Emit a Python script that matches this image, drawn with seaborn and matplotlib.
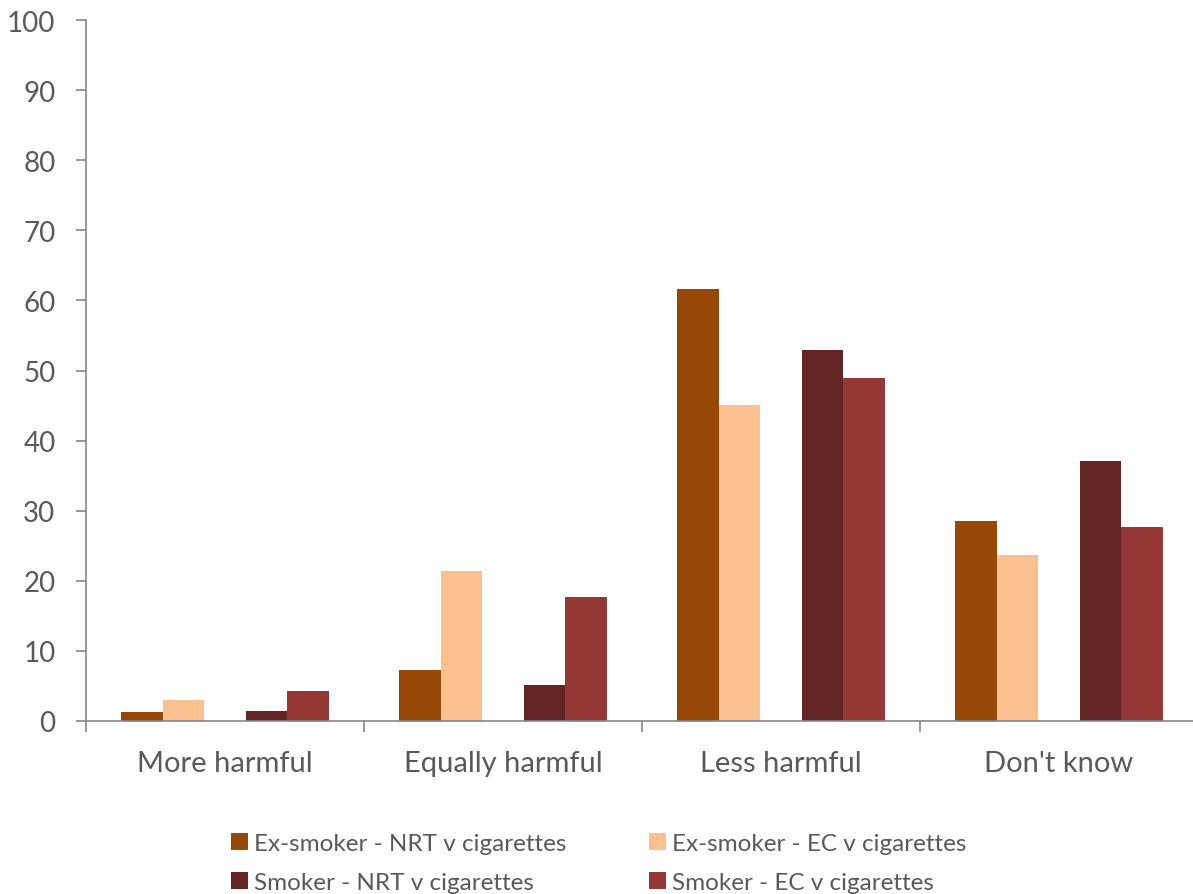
import matplotlib
matplotlib.use("Agg")
import matplotlib.pyplot as plt
from matplotlib.patches import Patch
import seaborn as sns
import pandas as pd

# data (percent)
categories = ["More harmful", "Equally harmful", "Less harmful", "Don't know"]
ex_nrt = [1.3, 7.3, 61.6, 28.6]
ex_ec = [3.0, 21.4, 45.1, 23.7]
smoker_nrt = [1.4, 5.2, 52.9, 37.1]
smoker_ec = [4.3, 17.7, 48.9, 27.7]

series_names = ["Ex-smoker - NRT v cigarettes", "Ex-smoker - EC v cigarettes",
                "Smoker - NRT v cigarettes", "Smoker - EC v cigarettes"]
series_colors = ["#974706", "#FAC090", "#632523", "#953735"]
spacer = " "  # empty slot between ex-smoker and smoker bars

rows = []
for name, vals in zip(series_names, [ex_nrt, ex_ec, smoker_nrt, smoker_ec]):
    for cat, v in zip(categories, vals):
        rows.append({"category": cat, "series": name, "value": v})
for cat in categories:
    rows.append({"category": cat, "series": spacer, "value": 0.0})
df = pd.DataFrame(rows)

hue_order = series_names[:2] + [spacer] + series_names[2:]
palette = dict(zip(series_names, series_colors))
palette[spacer] = "white"

sns.set_style("white")
plt.rcParams["font.family"] = ["Lato", "DejaVu Sans"]

fig = plt.figure(figsize=(11.93, 8.95), dpi=100)
ax = fig.add_axes([86 / 1193, 173 / 895, (1198 - 86) / 1193, 701 / 895])

sns.barplot(data=df, x="category", y="value", hue="series", order=categories,
            hue_order=hue_order, palette=palette, width=0.745, linewidth=0,
            saturation=1, errorbar=None, ax=ax, legend=False)

text_color = "#595959"
axis_color = "#868686"

ax.set_ylim(0, 100)
ax.set_xlim(-0.5, len(categories) - 0.5)
ax.set_yticks(range(0, 101, 10))
ax.set_xticks([i - 0.5 for i in range(len(categories) + 1)])
ax.set_xticklabels([])
ax.set_xticks(range(len(categories)), minor=True)
ax.set_xticklabels(categories, minor=True)
ax.tick_params(axis="x", which="major", direction="out", length=8, width=1.2,
               color=axis_color, bottom=True)
ax.tick_params(axis="x", which="minor", length=0, pad=21, labelsize=21,
               labelcolor=text_color)
ax.tick_params(axis="y", direction="out", length=7, width=1.2, color=axis_color,
               left=True, pad=15, labelsize=20, labelcolor=text_color)
ax.set_xlabel("")
ax.set_ylabel("")

for side in ["top", "right"]:
    ax.spines[side].set_visible(False)
for side in ["left", "bottom"]:
    ax.spines[side].set_color(axis_color)
    ax.spines[side].set_linewidth(1.2)

# legend in the reference order: row 1 ex-smoker, row 2 smoker
order = [0, 2, 1, 3]
handles = [Patch(facecolor=series_colors[i], edgecolor="none") for i in order]
labels = [series_names[i] for i in order]
fig.legend(handles, labels, ncol=2, loc="upper left",
           bbox_to_anchor=(209 / 1193, 1 - 812 / 895), frameon=False,
           fontsize=17.5, labelcolor=text_color, handlelength=0.7,
           handleheight=0.7, handletextpad=0.25, columnspacing=3.4,
           labelspacing=0.75)

fig.savefig("out.png", dpi=100)
